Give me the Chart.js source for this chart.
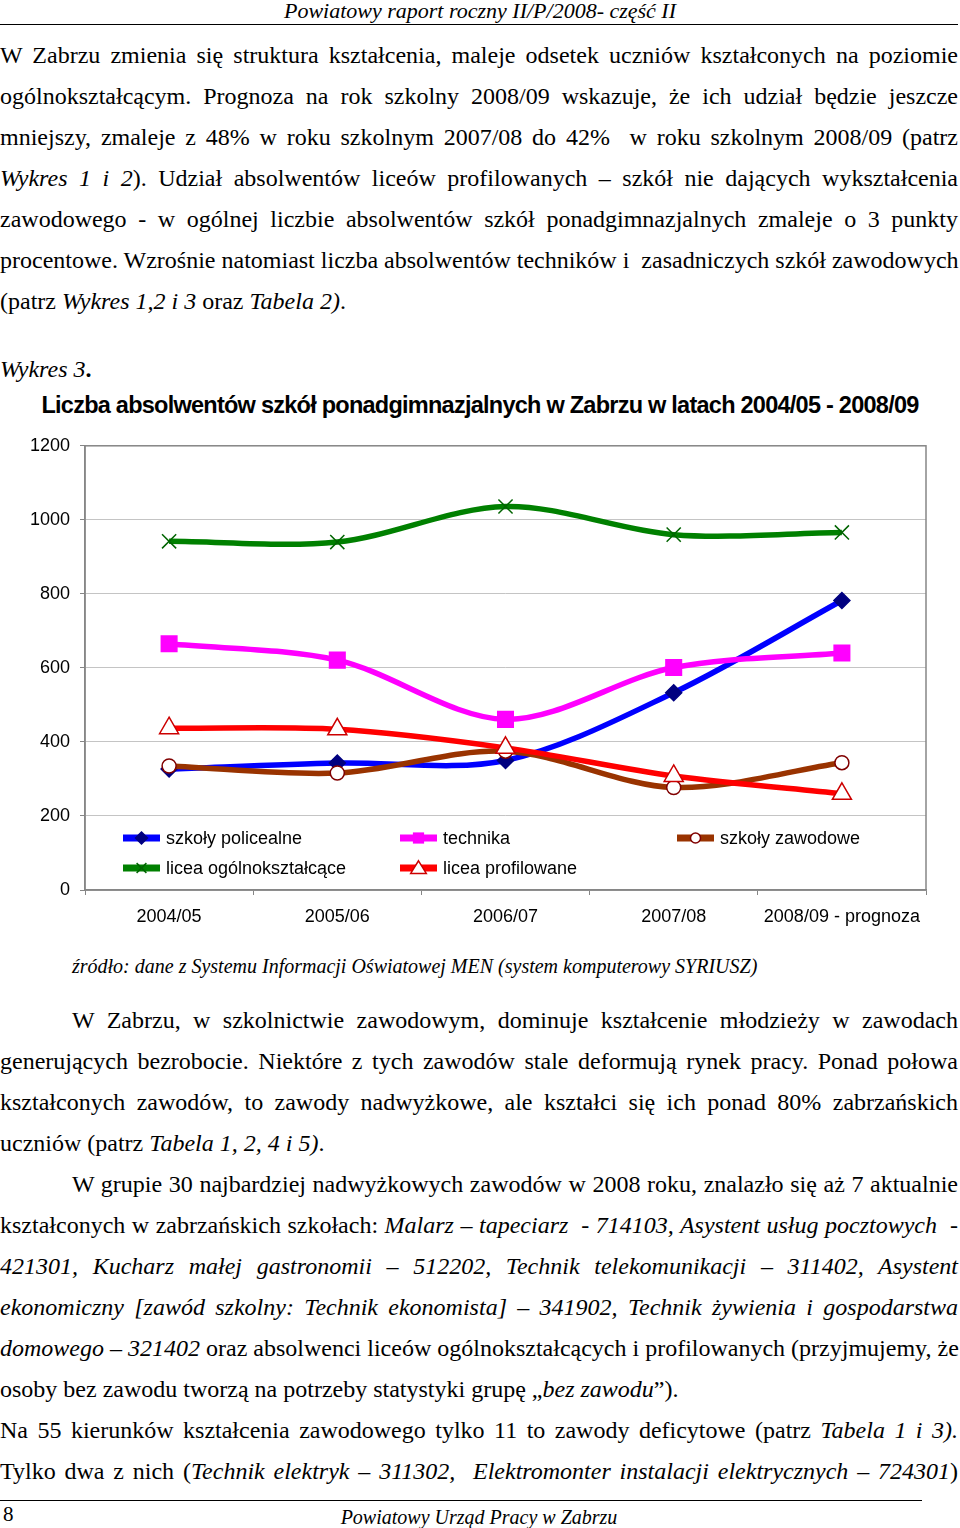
<!DOCTYPE html>
<html lang="pl">
<head>
<meta charset="utf-8">
<title>Wykres 3</title>
<script src="https://cdn.jsdelivr.net/npm/chart.js@4.4.1/dist/chart.umd.min.js"></script>
<style>
  html, body { margin: 0; padding: 0; background: #fff; }
  body { width: 960px; height: 1528px; position: relative; overflow: hidden; color: #000;
         font-family: 'Liberation Serif', 'Times New Roman', serif; }
  .abs { position: absolute; }
  .hdr { top: 0; left: 0; width: 960px; text-align: center; font-style: italic; font-size: 22px; line-height: 22px; }
  .rule { left: 0; height: 0; border-top: 1.3px solid #000; }
  .block { left: 0; width: 958px; font-size: 24px; }
  .block div { white-space: nowrap; height: 41px; line-height: 41px; }
  .j { text-align: justify; text-align-last: justify; }
  .ind { padding-left: 72px; }
  #title { top: 392px; left: 0; width: 960px; text-align: center; font-family: 'Liberation Sans', Arial, sans-serif;
           font-weight: bold; font-size: 23.5px; letter-spacing: -0.75px; line-height: 26px; }
  #wrap { top: 425px; left: 0; width: 960px; height: 510px; }
</style>
</head>
<body>

<div class="abs hdr">Powiatowy raport roczny II/P/2008- część II</div>
<div class="abs rule" style="top:24px; width:958px;"></div>

<div class="abs block" style="top:35px;">
  <div class="j">W Zabrzu zmienia się struktura kształcenia, maleje odsetek uczniów kształconych na poziomie</div>
  <div class="j">ogólnokształcącym. Prognoza na rok szkolny 2008/09 wskazuje, że ich udział będzie jeszcze</div>
  <div class="j">mniejszy, zmaleje z 48% w roku szkolnym 2007/08 do 42%&nbsp; w roku szkolnym 2008/09 (patrz</div>
  <div class="j"><i>Wykres 1 i 2</i>). Udział absolwentów liceów profilowanych – szkół nie dających wykształcenia</div>
  <div class="j">zawodowego - w ogólnej liczbie absolwentów szkół ponadgimnazjalnych zmaleje o 3 punkty</div>
  <div class="j">procentowe. Wzrośnie natomiast liczba absolwentów techników i&nbsp; zasadniczych szkół zawodowych</div>
  <div>(patrz <i>Wykres 1,2 i 3</i> oraz <i>Tabela 2)</i>.</div>
</div>

<div class="abs block" style="top:349px;"><div><i>Wykres 3</i><b>.</b></div></div>

<div class="abs" id="title">Liczba absolwentów szkół ponadgimnazjalnych w Zabrzu w latach 2004/05 - 2008/09</div>

<div class="abs" id="wrap"><canvas id="chart"></canvas></div>

<div class="abs" style="top:954px; left:72px; font-size:20px; font-style:italic; line-height:24px;">źródło: dane z Systemu Informacji Oświatowej MEN (system komputerowy SYRIUSZ)</div>

<div class="abs block" style="top:1000px;">
  <div class="j ind">W Zabrzu, w szkolnictwie zawodowym, dominuje kształcenie młodzieży w&nbsp;zawodach</div>
  <div class="j">generujących bezrobocie. Niektóre z tych zawodów stale deformują rynek pracy. Ponad połowa</div>
  <div class="j">kształconych zawodów, to zawody nadwyżkowe, ale kształci się ich ponad 80% zabrzańskich</div>
  <div>uczniów (patrz <i>Tabela 1, 2, 4 i 5)</i>.</div>
  <div class="j ind">W grupie 30 najbardziej nadwyżkowych zawodów w 2008 roku, znalazło się aż 7 aktualnie</div>
  <div class="j">kształconych w zabrzańskich szkołach: <i>Malarz – tapeciarz&nbsp; - 714103, Asystent usług pocztowych&nbsp; -</i></div>
  <div class="j"><i>421301, Kucharz małej gastronomii – 512202, Technik telekomunikacji – 311402, Asystent</i></div>
  <div class="j"><i>ekonomiczny [zawód szkolny: Technik ekonomista] – 341902, Technik żywienia i gospodarstwa</i></div>
  <div class="j"><i>domowego – 321402</i> oraz absolwenci liceów ogólnokształcących i profilowanych (przyjmujemy, że</div>
  <div>osoby bez zawodu tworzą na potrzeby statystyki grupę „<i>bez zawodu</i>”).</div>
  <div class="j">Na 55 kierunków kształcenia zawodowego tylko 11 to zawody deficytowe (patrz <i>Tabela 1 i 3).</i></div>
  <div class="j">Tylko dwa z nich (<i>Technik elektryk – 311302,&nbsp; Elektromonter instalacji elektrycznych – 724301</i>)</div>
</div>

<div class="abs rule" style="top:1500px; width:922px;"></div>
<div class="abs" style="top:1503px; left:3px; font-size:21px; line-height:22px;">8</div>
<div class="abs" style="top:1506px; left:0; width:958px; text-align:center; font-size:20px; font-style:italic; line-height:22px;">Powiatowy Urząd Pracy w Zabrzu</div>

<script>
// dane
const lata = ['2004/05', '2005/06', '2006/07', '2007/08', '2008/09 - prognoza'];
const yTicks = [0, 200, 400, 600, 800, 1000, 1200];

const policealne   = [327, 343, 350, 533, 782];
const technika     = [665, 621, 461, 601, 640];
const zawodowe     = [335, 316, 375, 277, 344];
const ogolno       = [942, 940, 1036, 960, 966];
const profilowane  = [437, 434, 384, 308, 260];

const serie = [
  { label: 'szkoły policealne', data: policealne, color: '#0000ff', style: 'rectRot', r: 8, fill: '#000080', stroke: '#000080', lr: 6 },
  { label: 'technika', data: technika, color: '#ff00ff', style: 'rect', r: 11, fill: '#ff00ff', stroke: '#ff00ff', lr: 8 },
  { label: 'szkoły zawodowe', data: zawodowe, color: '#993300', style: 'circle', r: 7, fill: '#ffffff', stroke: '#800000', lr: 5 },
  { label: 'licea ogólnokształcące', data: ogolno, color: '#008000', style: 'crossRot', r: 10, fill: '#006400', stroke: '#006400', lr: 7 },
  { label: 'licea profilowane', data: profilowane, color: '#ff0000', style: 'triangle', r: 11, fill: '#ffffff', stroke: '#cc0000', lr: 9 }
];

const FONT = "'Liberation Sans', Arial, sans-serif";
const GRAY = '#868686';

// ramka obszaru wykresu
const plotBorder = {
  id: 'plotBorder',
  beforeDatasetsDraw(chart) {
    const a = chart.chartArea, ctx = chart.ctx;
    ctx.save();
    ctx.strokeStyle = GRAY;
    ctx.lineWidth = 1.5;
    ctx.strokeRect(a.left, a.top, a.right - a.left, a.bottom - a.top);
    ctx.restore();
  }
};

function drawMarker(ctx, s, x, y, r) {
  ctx.save();
  ctx.fillStyle = s.fill;
  ctx.strokeStyle = s.stroke;
  ctx.lineWidth = 1.5;
  ctx.beginPath();
  if (s.style === 'rectRot') {
    ctx.moveTo(x, y - r); ctx.lineTo(x + r, y); ctx.lineTo(x, y + r); ctx.lineTo(x - r, y); ctx.closePath();
    ctx.fill(); ctx.stroke();
  } else if (s.style === 'rect') {
    ctx.rect(x - r * 0.7, y - r * 0.7, r * 1.4, r * 1.4); ctx.fill();
  } else if (s.style === 'circle') {
    ctx.arc(x, y, r, 0, Math.PI * 2); ctx.fill(); ctx.stroke();
  } else if (s.style === 'crossRot') {
    const d = r * 0.7;
    ctx.moveTo(x - d, y - d); ctx.lineTo(x + d, y + d);
    ctx.moveTo(x + d, y - d); ctx.lineTo(x - d, y + d); ctx.stroke();
  } else if (s.style === 'triangle') {
    const h = r * 0.866;
    ctx.moveTo(x, y - r * 0.8); ctx.lineTo(x + h, y + r * 0.6); ctx.lineTo(x - h, y + r * 0.6); ctx.closePath();
    ctx.fill(); ctx.stroke();
  }
  ctx.restore();
}

// legenda wewnątrz obszaru wykresu
const innerLegend = {
  id: 'innerLegend',
  afterDatasetsDraw(chart) {
    const a = chart.chartArea, ctx = chart.ctx;
    serie.forEach((s, i) => {
      const col = i % 3, row = Math.floor(i / 3);
      const x0 = a.left + 38 + col * 277;
      const y = a.bottom - 52 + row * 30;
      ctx.save();
      ctx.strokeStyle = s.color;
      ctx.lineWidth = 7;
      ctx.beginPath(); ctx.moveTo(x0, y); ctx.lineTo(x0 + 37, y); ctx.stroke();
      ctx.restore();
      drawMarker(ctx, s, x0 + 18.5, y, s.lr);
      ctx.save();
      ctx.fillStyle = '#000';
      ctx.font = '18px ' + FONT;
      ctx.textBaseline = 'middle';
      ctx.fillText(s.label, x0 + 43, y + 1);
      ctx.restore();
    });
  }
};

new Chart(document.getElementById('chart'), {
  type: 'line',
  data: {
    labels: lata,
    datasets: serie.map((s, i) => ({
      label: s.label,
      data: s.data,
      order: serie.length - i,
      borderColor: s.color,
      borderWidth: 5.5,
      tension: 0.32,
      pointStyle: s.style,
      pointRadius: s.r,
      pointHoverRadius: s.r,
      pointBackgroundColor: s.fill,
      pointBorderColor: s.stroke,
      pointBorderWidth: 1.5
    }))
  },
  options: {
    responsive: true,
    maintainAspectRatio: false,
    animation: false,
    layout: { padding: { top: 17, right: 34, left: 0, bottom: 0 } },
    plugins: { legend: { display: false }, tooltip: { enabled: false }, title: { display: false } },
    scales: {
      x: {
        offset: true,
        grid: { display: true, drawOnChartArea: false, drawTicks: true, tickLength: 5, offset: true, color: GRAY },
        border: { color: GRAY, width: 1.5 },
        ticks: { color: '#000', font: { family: FONT, size: 18 }, padding: 11, maxRotation: 0, autoSkip: false },
        afterFit(scale) { scale.height = 45; }
      },
      y: {
        min: yTicks[0],
        max: yTicks[yTicks.length - 1],
        afterBuildTicks(scale) { scale.ticks = yTicks.map(v => ({ value: v })); },
        grid: { color: '#c4c4c4', lineWidth: 1, tickLength: 5, tickColor: GRAY },
        border: { color: GRAY, width: 1.5 },
        ticks: { color: '#000', font: { family: FONT, size: 18 }, padding: 10, callback: v => String(v) },
        afterFit(scale) { scale.width = 85; }
      }
    }
  },
  plugins: [plotBorder, innerLegend]
});
</script>
</body>
</html>
